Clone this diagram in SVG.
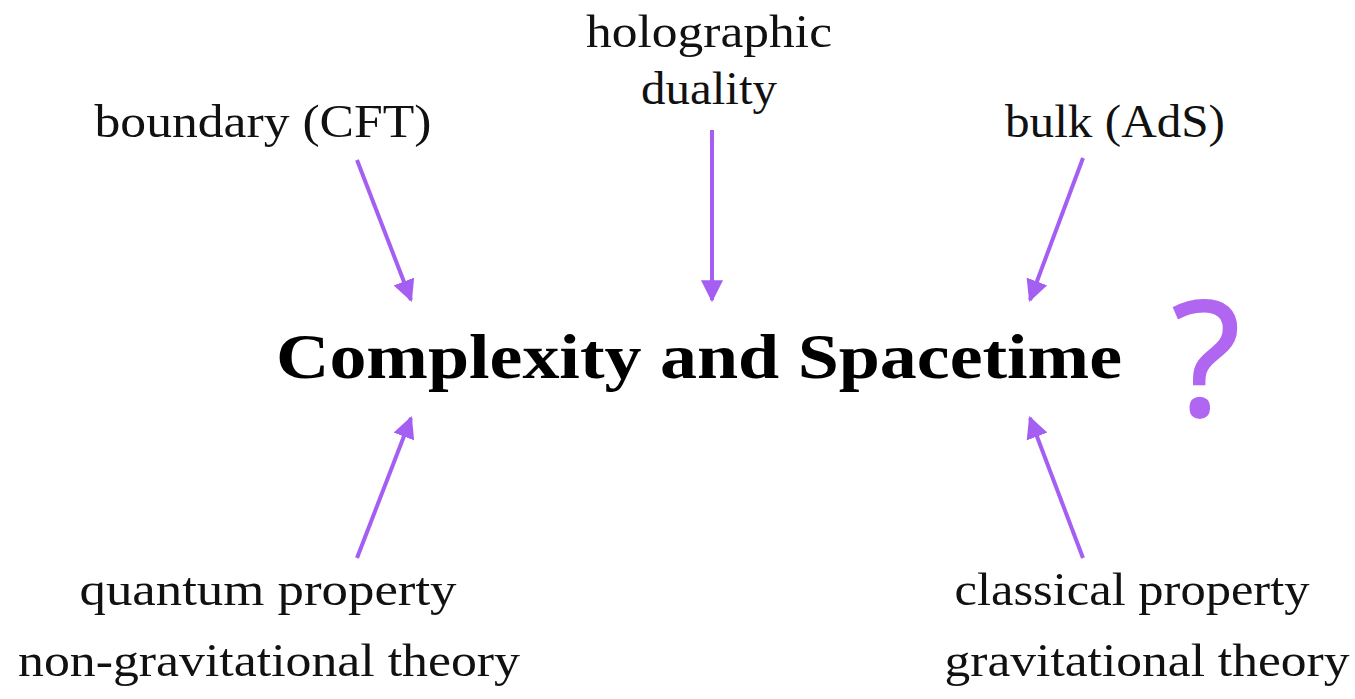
<svg xmlns="http://www.w3.org/2000/svg" width="1355" height="699" viewBox="0 0 1355 699">
<style>
.lbl{font-family:"Liberation Serif","Times New Roman",serif;font-size:46px;fill:#111;text-anchor:middle}
.title{font-family:"Liberation Serif","Times New Roman",serif;font-size:64px;font-weight:bold;fill:#000;text-anchor:middle}
.q{font-family:"Open Sans","Noto Sans",sans-serif;font-size:160px;fill:#b066f0;text-anchor:middle;stroke:#b066f0;stroke-width:2}
.arr{stroke:#a55ef2;stroke-width:4;fill:none;marker-end:url(#ah)}
</style>
<defs>
<marker id="ah" viewBox="0 0 10 10" refX="9" refY="5" markerWidth="5.5" markerHeight="5.5" orient="auto" markerUnits="strokeWidth">
<path d="M0,0 L10,5 L0,10 z" fill="#a55ef2"/>
</marker>
</defs>
<rect width="1355" height="699" fill="#fff"/>
<g id="title"><text class="title" x="699" y="378" textLength="846" lengthAdjust="spacingAndGlyphs">Complexity and Spacetime</text></g>
<g id="question"><text class="q" x="1206" y="416">?</text></g>
<g id="boundary"><text class="lbl" x="263" y="137" textLength="337" lengthAdjust="spacingAndGlyphs">boundary (CFT)</text></g>
<g id="holographic"><text class="lbl" x="709" y="47" textLength="246" lengthAdjust="spacingAndGlyphs">holographic</text><text class="lbl" x="709" y="104" textLength="136" lengthAdjust="spacingAndGlyphs">duality</text></g>
<g id="bulk"><text class="lbl" x="1115" y="137" textLength="220" lengthAdjust="spacingAndGlyphs">bulk (AdS)</text></g>
<g id="quantum"><text class="lbl" x="268" y="605" textLength="377" lengthAdjust="spacingAndGlyphs">quantum property</text><text class="lbl" x="269" y="676" textLength="502" lengthAdjust="spacingAndGlyphs">non-gravitational theory</text></g>
<g id="classical"><text class="lbl" x="1132" y="605" textLength="355" lengthAdjust="spacingAndGlyphs">classical property</text><text class="lbl" x="1147" y="676" textLength="405" lengthAdjust="spacingAndGlyphs">gravitational theory</text></g>
<g id="connectors">
<line class="arr" x1="357" y1="160" x2="411" y2="300"/>
<line class="arr" x1="712" y1="130" x2="712" y2="300"/>
<line class="arr" x1="1083" y1="158" x2="1030" y2="300"/>
<line class="arr" x1="357" y1="558" x2="411" y2="418"/>
<line class="arr" x1="1083" y1="558" x2="1030" y2="418"/>
</g>
</svg>
